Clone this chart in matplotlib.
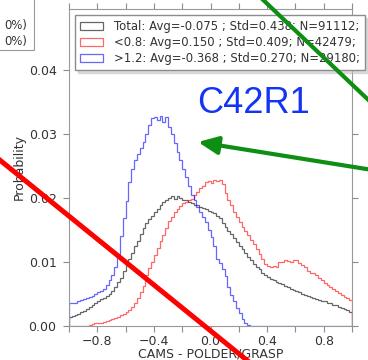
import numpy as np
import matplotlib.pyplot as plt
from matplotlib.lines import Line2D
from matplotlib.patches import Rectangle
from matplotlib.ticker import MultipleLocator, FormatStrFormatter

# bins of 0.02 from -1 to 1
edges = np.round(np.arange(-1.0, 1.0001, 0.02), 2)

total = [0.0014, 0.0015, 0.0017, 0.0019, 0.0021, 0.0023, 0.0026, 0.0029, 0.0032, 0.0035,
         0.0038, 0.0041, 0.0044, 0.0047, 0.0050, 0.0055, 0.0060, 0.0068, 0.0075, 0.0085,
         0.0095, 0.0105, 0.0114, 0.0124, 0.0133, 0.0143, 0.0152, 0.0160, 0.0166, 0.0172,
         0.0178, 0.0183, 0.0189, 0.0193, 0.0196, 0.0199, 0.0202, 0.0198, 0.0202, 0.0199,
         0.0196, 0.0197, 0.0193, 0.0191, 0.0188, 0.0189, 0.0186, 0.0184, 0.0182, 0.0180,
         0.0178, 0.0176, 0.0171, 0.0168, 0.0160, 0.0154, 0.0148, 0.0143, 0.0137, 0.0131,
         0.0125, 0.0120, 0.0114, 0.0108, 0.0103, 0.0097, 0.0092, 0.0088, 0.0083, 0.0079,
         0.0076, 0.0073, 0.0071, 0.0069, 0.0067, 0.0065, 0.0062, 0.0060, 0.0058, 0.0056,
         0.0054, 0.0052, 0.0050, 0.0048, 0.0046, 0.0045, 0.0043, 0.0042, 0.0040, 0.0039,
         0.0038, 0.0036, 0.0035, 0.0033, 0.0032, 0.0030, 0.0028, 0.0026, 0.0024, 0.0021]

low = [0.0, 0.0, 0.0, 0.0, 0.0, 0.0, 0.0, 0.0001, 0.0003, 0.0004,
       0.0004, 0.0005, 0.0006, 0.0008, 0.0009, 0.0011, 0.0012, 0.0014, 0.0016, 0.0018,
       0.0021, 0.0024, 0.0030, 0.0036, 0.0044, 0.0052, 0.0062, 0.0080, 0.0090, 0.0100,
       0.0110, 0.0122, 0.0132, 0.0142, 0.0152, 0.0163, 0.0170, 0.0177, 0.0182, 0.0187,
       0.0191, 0.0194, 0.0196, 0.0198, 0.0204, 0.0209, 0.0215, 0.0219, 0.0224, 0.0226,
       0.0223, 0.0228, 0.0226, 0.0228, 0.0222, 0.0207, 0.0196, 0.0188, 0.0177, 0.0170,
       0.0162, 0.0155, 0.0148, 0.0141, 0.0134, 0.0127, 0.0120, 0.0112, 0.0104, 0.0097,
       0.0093, 0.0092, 0.0094, 0.0092, 0.0100, 0.0099, 0.0103, 0.0101, 0.0099, 0.0103,
       0.0102, 0.0098, 0.0095, 0.0091, 0.0086, 0.0082, 0.0083, 0.0079, 0.0074, 0.0071,
       0.0067, 0.0064, 0.0061, 0.0058, 0.0054, 0.0051, 0.0048, 0.0045, 0.0043, 0.0040]

high = [0.0035, 0.0035, 0.0036, 0.0039, 0.0040, 0.0041, 0.0044, 0.0045, 0.0047, 0.0050,
        0.0052, 0.0055, 0.0058, 0.0064, 0.0071, 0.0080, 0.0092, 0.0112, 0.0140, 0.0168,
        0.0195, 0.0225, 0.0245, 0.0259, 0.0268, 0.0277, 0.0287, 0.0300, 0.0313, 0.0324,
        0.0326, 0.0322, 0.0327, 0.0318, 0.0326, 0.0310, 0.0300, 0.0285, 0.0272, 0.0259,
        0.0245, 0.0233, 0.0218, 0.0205, 0.0196, 0.0185, 0.0178, 0.0170, 0.0162, 0.0150,
        0.0138, 0.0125, 0.0105, 0.0098, 0.0088, 0.0077, 0.0060, 0.0048, 0.0038, 0.0028,
        0.0020, 0.0010, 0.0005, 0.0001, 0.0, 0.0, 0.0, 0.0, 0.0, 0.0,
        0.0, 0.0, 0.0, 0.0, 0.0, 0.0, 0.0, 0.0, 0.0, 0.0,
        0.0, 0.0, 0.0, 0.0, 0.0, 0.0, 0.0, 0.0, 0.0, 0.0,
        0.0, 0.0, 0.0, 0.0, 0.0, 0.0, 0.0, 0.0, 0.0, 0.0]

labels = ['Total: Avg=-0.075 ; Std=0.438; N=91112;',
          '<0.8: Avg=0.150 ; Std=0.409; N=42479;',
          '>1.2: Avg=-0.368 ; Std=0.270; N=29180;']
colors = ['k', 'r', 'b']

W, H = 368, 360
fig = plt.figure(figsize=(W / 100, H / 100), dpi=100)
ax = fig.add_axes([69 / W, (H - 325.7) / H, (352 - 69) / W, (325.7 - 9) / H])

centers = edges[:-1] + 0.01
for vals, c, lab in zip([total, low, high], colors, labels):
    ax.hist(centers, bins=edges, weights=vals, histtype='step', color=c,
            alpha=0.6, lw=0.9, label=lab)

ax.set_xlim(-1, 1)
ax.set_ylim(0, 0.0495)
ax.xaxis.set_minor_locator(MultipleLocator(0.2))
ax.yaxis.set_major_locator(MultipleLocator(0.01))
ax.yaxis.set_major_formatter(FormatStrFormatter('%.2f'))
ax.set_xticks([-0.8, -0.4, 0.0, 0.4, 0.8], labels=['\u22120.8', '\u22120.4', '0.0', '0.4', '0.8'])
ax.tick_params(which='both', direction='out', length=4, width=0.8, color='0.55',
               top=True, right=True, labelsize=9, labelcolor='#333333')
ax.tick_params(axis='y', pad=5)
ax.tick_params(axis='x', pad=2.5)
for s in ax.spines.values():
    s.set_color('0.6')
    s.set_linewidth(0.8)

ax.set_xlabel('CAMS - POLDER/GRASP', fontsize=9, color='#333333', labelpad=0)
ax.set_ylabel('Probability', fontsize=9, color='#333333', labelpad=2)

leg = ax.legend(loc='upper left', fontsize=8.4, labelspacing=0.26, shadow={'color': '0.75'},
                fancybox=False, borderaxespad=0.55, handlelength=2.0, handletextpad=0.9,
                edgecolor='0.55', framealpha=1)
for t in leg.get_texts():
    t.set_color('#333333')

# piece of the neighbouring panel's legend (top left)
fig.add_artist(Rectangle((-20 / W, (H - 50) / H), 54 / W, 70 / H, transform=fig.transFigure,
                         fc='white', ec='0.6', lw=0.8))
for py in [25, 42]:
    fig.text(27 / W, (H - py) / H, '0%)', fontsize=8.4, color='#333333',
             ha='right', va='center')

# overlaid annotations
red = '#ff0000'
green = '#0e8f14'
fig.add_artist(Line2D(np.array([-20, 275]) / W, (H - np.array([144, 383])) / H,
                      transform=fig.transFigure, color=red, lw=3.6))
fig.add_artist(Line2D(np.array([258, 380]) / W, (H - np.array([-5, 111])) / H,
                      transform=fig.transFigure, color=green, lw=3))
fig.text(197 / W, (H - 113) / H, 'C42R1', fontsize=26, color='#1434f5',
         family='Liberation Sans', ha='left', va='baseline')
ax.annotate('', xy=(198, H - 142), xycoords='figure pixels',
            xytext=(385, H - 172), textcoords='figure pixels',
            arrowprops=dict(arrowstyle='-|>,head_length=0.8,head_width=0.36',
                            mutation_scale=15, lw=3, color=green,
                            shrinkA=0, shrinkB=0))

fig.savefig('out.png', dpi=100)
